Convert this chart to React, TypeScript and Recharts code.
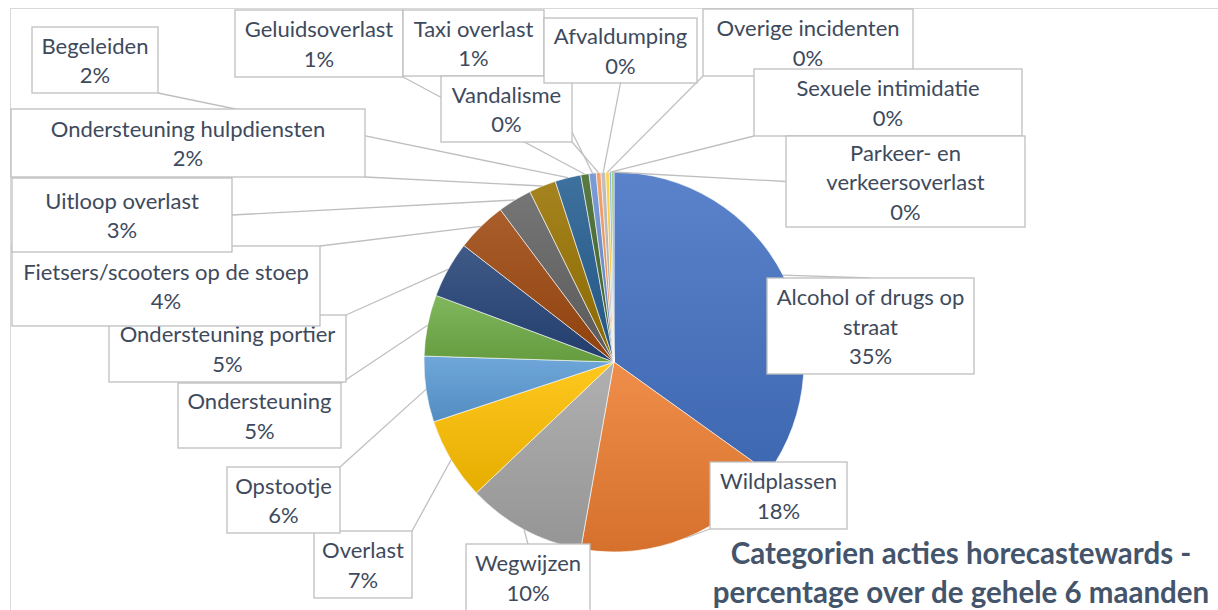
import { PieChart, Pie, Cell } from 'recharts'

const categories = [
  'Alcohol of drugs op straat',
  'Wildplassen',
  'Wegwijzen',
  'Overlast',
  'Opstootje',
  'Ondersteuning',
  'Ondersteuning portier',
  'Fietsers/scooters op de stoep',
  'Uitloop overlast',
  'Ondersteuning hulpdiensten',
  'Begeleiden',
  'Geluidsoverlast',
  'Taxi overlast',
  'Vandalisme',
  'Afvaldumping',
  'Overige incidenten',
  'Sexuele intimidatie',
  'Parkeer- en verkeersoverlast',
]

// share of all actions, in percent
const shares = [34.9, 17.9, 10.1, 7.0, 5.6, 5.2, 4.8, 4.3, 2.9, 2.3, 2.2, 0.7, 0.6, 0.4, 0.4, 0.3, 0.2, 0.2]

const titleLines = ['Categorien acties horecastewards -', 'percentage over de gehele 6 maanden']

const palette = [
  '#4472C4', '#ED7D31', '#A5A5A5', '#FFC000', '#5B9BD5', '#70AD47',
  '#264478', '#9E480E', '#636363', '#997300', '#255E91', '#43682B',
  '#698ED0', '#F1975A', '#B7B7B7', '#FFCD33', '#7CAFDD', '#8CC168',
]

// where each data label box sits (dragged by hand in the original)
const labelBoxes = [
  { x: 767, y: 278, w: 207, h: 96 },
  { x: 710, y: 462, w: 137, h: 67 },
  { x: 466, y: 544, w: 124, h: 67 },
  { x: 314, y: 531, w: 98, h: 67 },
  { x: 227, y: 467, w: 113, h: 66 },
  { x: 178, y: 383, w: 163, h: 65 },
  { x: 109, y: 315, w: 237, h: 67 },
  { x: 12, y: 246, w: 308, h: 80 },
  { x: 12, y: 178, w: 220, h: 74 },
  { x: 11, y: 109, w: 354, h: 68 },
  { x: 32, y: 27, w: 126, h: 66 },
  { x: 235, y: 10, w: 168, h: 67 },
  { x: 403, y: 10, w: 141, h: 66 },
  { x: 441, y: 76, w: 131, h: 66 },
  { x: 544, y: 18, w: 153, h: 65 },
  { x: 703, y: 9, w: 210, h: 67 },
  { x: 754, y: 69, w: 268, h: 67 },
  { x: 786, y: 136, w: 239, h: 91 },
]

const data = categories.map((name, i) => ({ name, value: shares[i] }))

const RAD = Math.PI / 180
const labelFont = 'Lato, "Open Sans", sans-serif'
const labelSize = 22
const lineGap = 29.5

function mix(hex: string, target: number, t: number) {
  const n = parseInt(hex.slice(1), 16)
  const ch = [(n >> 16) & 255, (n >> 8) & 255, n & 255].map((c) => Math.round(c + (target - c) * t))
  return `rgb(${ch[0]},${ch[1]},${ch[2]})`
}

function wrap(text: string, maxChars: number) {
  const out: string[] = []
  let cur = ''
  text.split(' ').forEach((w) => {
    const next = cur ? cur + ' ' + w : w
    if (next.length > maxChars && cur) {
      out.push(cur)
      cur = w
    } else cur = next
  })
  if (cur) out.push(cur)
  return out
}

function edgePoint(p: any) {
  return {
    x: p.cx + p.outerRadius * Math.cos(-p.midAngle * RAD),
    y: p.cy + p.outerRadius * Math.sin(-p.midAngle * RAD),
  }
}

function anchorFor(pt: { x: number; y: number }, b: { x: number; y: number; w: number; h: number }) {
  const x = pt.x < b.x ? b.x : pt.x > b.x + b.w ? b.x + b.w : b.x + b.w / 2
  const y = pt.y < b.y ? b.y : pt.y > b.y + b.h ? b.y + b.h : b.y + b.h / 2
  return { x, y }
}

const renderLeader = (props: any) => {
  const b = labelBoxes[props.index]
  const p = edgePoint(props)
  const a = anchorFor(p, b)
  return <line x1={p.x} y1={p.y} x2={a.x} y2={a.y} stroke="#BFBFBF" strokeWidth={1.3} />
}

const renderBox = (props: any) => {
  const b = labelBoxes[props.index]
  const lines = [...wrap(props.name, Math.floor(b.w / 10.5)), `${Math.round(props.percent * 100)}%`]
  const mid = b.y + b.h / 2
  const first = mid - ((lines.length - 1) * lineGap) / 2
  return (
    <g>
      <rect x={b.x} y={b.y} width={b.w} height={b.h} fill="#fff" stroke="#BFBFBF" strokeWidth={1.3} />
      {lines.map((t, i) => (
        <text
          key={i}
          x={b.x + b.w / 2}
          y={first + i * lineGap}
          textAnchor="middle"
          dominantBaseline="central"
          fontFamily={labelFont}
          fontSize={labelSize}
          fill="#3E4A5C"
        >
          {t}
        </text>
      ))}
    </g>
  )
}

export default function App() {
  return (
    <div
      style={{
        position: 'absolute',
        left: 0,
        top: 0,
        width: 1218,
        height: 610,
        overflow: 'hidden',
        background: '#fff',
      }}
    >
      <div
        style={{
          position: 'absolute',
          left: 10,
          top: 8,
          width: 1300,
          height: 700,
          border: '1px solid #D9D9D9',
        }}
      />
      <svg width={0} height={0} style={{ position: 'absolute' }}>
        <defs>
          {palette.map((c, i) => (
            <linearGradient key={i} id={`slice-${i}`} x1="0" y1="0" x2="0" y2="1">
              <stop offset="0%" stopColor={mix(c, 255, 0.12)} />
              <stop offset="100%" stopColor={mix(c, 0, 0.1)} />
            </linearGradient>
          ))}
        </defs>
      </svg>
      <div style={{ position: 'absolute', left: 0, top: 0 }}>
        <PieChart width={1218} height={610} margin={{ top: 0, right: 0, bottom: 0, left: 0 }}>
          <Pie
            data={data}
            dataKey="value"
            nameKey="name"
            cx={614}
            cy={362}
            outerRadius={190}
            startAngle={90}
            endAngle={-270}
            stroke="#fff"
            strokeWidth={0.6}
            labelLine={false}
            label={renderLeader}
            isAnimationActive={false}
          >
            {data.map((_, i) => (
              <Cell key={i} fill={`url(#slice-${i})`} />
            ))}
          </Pie>
          <Pie
            data={data}
            dataKey="value"
            nameKey="name"
            cx={614}
            cy={362}
            outerRadius={190}
            startAngle={90}
            endAngle={-270}
            fill="none"
            stroke="none"
            labelLine={false}
            label={renderBox}
            isAnimationActive={false}
          />
        </PieChart>
      </div>
      <div
        style={{
          position: 'absolute',
          left: 700,
          top: 533,
          width: 522,
          textAlign: 'center',
          fontFamily: labelFont,
          fontWeight: 700,
          fontSize: 29.5,
          lineHeight: '39px',
          color: '#44546A',
          whiteSpace: 'nowrap',
        }}
      >
        {titleLines.map((t, i) => (
          <div key={i}>{t}</div>
        ))}
      </div>
    </div>
  )
}
